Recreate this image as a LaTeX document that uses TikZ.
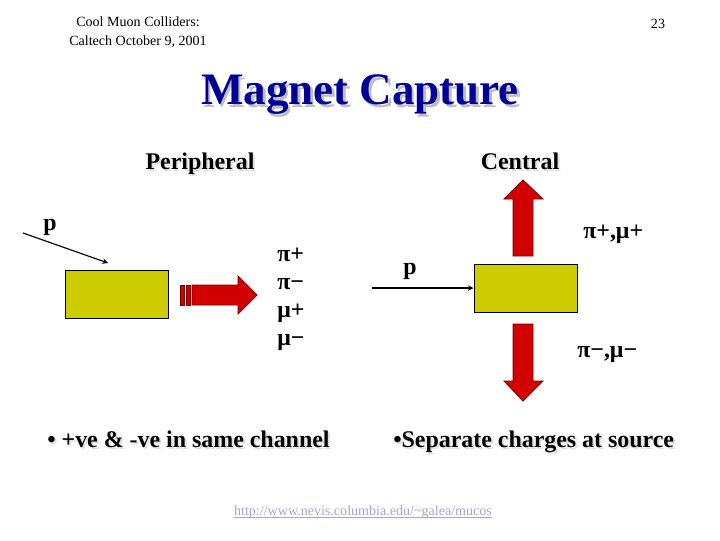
\documentclass[tikz,border=0pt]{standalone}
\usepackage{fontspec}
\setmainfont{Liberation Serif}
\usepackage{tikz}
\usetikzlibrary{positioning}
\definecolor{titleblue}{RGB}{0,0,150}
\definecolor{boxyellow}{RGB}{204,204,0}
\definecolor{arrowred}{RGB}{210,0,0}
\definecolor{edgered}{RGB}{120,0,0}
\definecolor{linkblue}{RGB}{165,165,210}

\begin{document}
\begin{tikzpicture}[x=0.025cm, y=-0.025cm, >=stealth,
    hdr/.style={font=\fontsize{10}{13.5}\selectfont, inner sep=0pt, align=center},
    lbl/.style={font=\fontsize{17}{20}\selectfont\bfseries, inner sep=0pt},
    shade/.style={text=black!12},
    target/.style={draw=black, fill=boxyellow, line width=0.7pt, minimum width=2.55cm, minimum height=1.2cm, inner sep=0pt},
    blockarrow/.style={draw=edgered, fill=arrowred, line width=0.6pt}]
    \useasboundingbox (0,0) rectangle (720,540);
    % kopf der folie
    \node[hdr] (hdr) at (138,32) {Cool Muon Colliders:\\Caltech October 9, 2001};
    \node[hdr] (page) at (658,24) {23};

    % titel mit schatten
    \node[font=\fontsize{32}{36}\selectfont\bfseries, text=black!25] at (362.5,97.5) {Magnet Capture};
    \node[font=\fontsize{32}{36}\selectfont\bfseries, text=titleblue] (title) at (360,95) {Magnet Capture};

    % spaltenkoepfe
    \node[lbl, shade, anchor=base] at (202,171) {Peripheral};
    \node[lbl, anchor=base] (periph) at (200,169) {Peripheral};
    \node[lbl, shade, anchor=base] at (522,171) {Central};
    \node[lbl, anchor=base] (central) at (520,169) {Central};

    % links: target und gemeinsamer kanal
    \node[target] (lbox) at (117,294) {};
    \node[lbl, anchor=base] (lp) at (50,230) {p};
    \coordinate (lstart) at (23,233);
    \coordinate (lhit) at (108,263);
    \draw[->, line width=0.8pt] (lstart) -- (lhit);
    \filldraw[blockarrow] (180,285) rectangle (184,305);
    \filldraw[blockarrow] (186,285) rectangle (190,305);
    \filldraw[blockarrow] (192,285) -- (238,285) -- (238,276) -- (257,295)
        -- (238,314) -- (238,305) -- (192,305) -- cycle;
    \node[lbl, anchor=base west] (pip) at (277,261) {π+};
    \node[lbl, anchor=base west] (pim) at (277,289) {π−};
    \node[lbl, anchor=base west] (mup) at (277,317) {μ+};
    \node[lbl, anchor=base west] (mum) at (277,345) {μ−};

    % rechts: ladungen getrennt
    \node[target, minimum width=2.575cm] (rbox) at (525.5,288) {};
    \node[lbl, anchor=base] (rp) at (410,274) {p};
    \coordinate (rstart) at (372,288);
    \draw[->, line width=0.8pt] (rstart) -- (rbox.west);
    \filldraw[blockarrow] (513,256) -- (513,199) -- (504,199) -- (523,180)
        -- (543,199) -- (533,199) -- (533,256) -- cycle;
    \filldraw[blockarrow] (513,324) -- (513,381) -- (504,381) -- (523,401)
        -- (543,381) -- (533,381) -- (533,324) -- cycle;
    \node[lbl, anchor=base west] (plus) at (583,238) {π+,μ+};
    \node[lbl, anchor=base west] (minus) at (577,357) {π−,μ−};

    % aussagen
    \node[lbl, shade, anchor=base west] at (49,449) {• +ve \& -ve in same channel};
    \node[lbl, anchor=base west] (bull1) at (47,447) {• +ve \& -ve in same channel};
    \node[lbl, shade, anchor=base west] at (395,449) {•Separate charges at source};
    \node[lbl, anchor=base west] (bull2) at (393,447) {•Separate charges at source};

    % link unten
    \node[font=\fontsize{10}{12}\selectfont, text=linkblue, inner sep=0pt, anchor=base] (url) at (363,515)
        {http://www.nevis.columbia.edu/\textasciitilde galea/mucos};
    \draw[linkblue, line width=0.6pt] ([yshift=-2pt]url.base west) -- ([yshift=-2pt]url.base east);
\end{tikzpicture}
\end{document}
